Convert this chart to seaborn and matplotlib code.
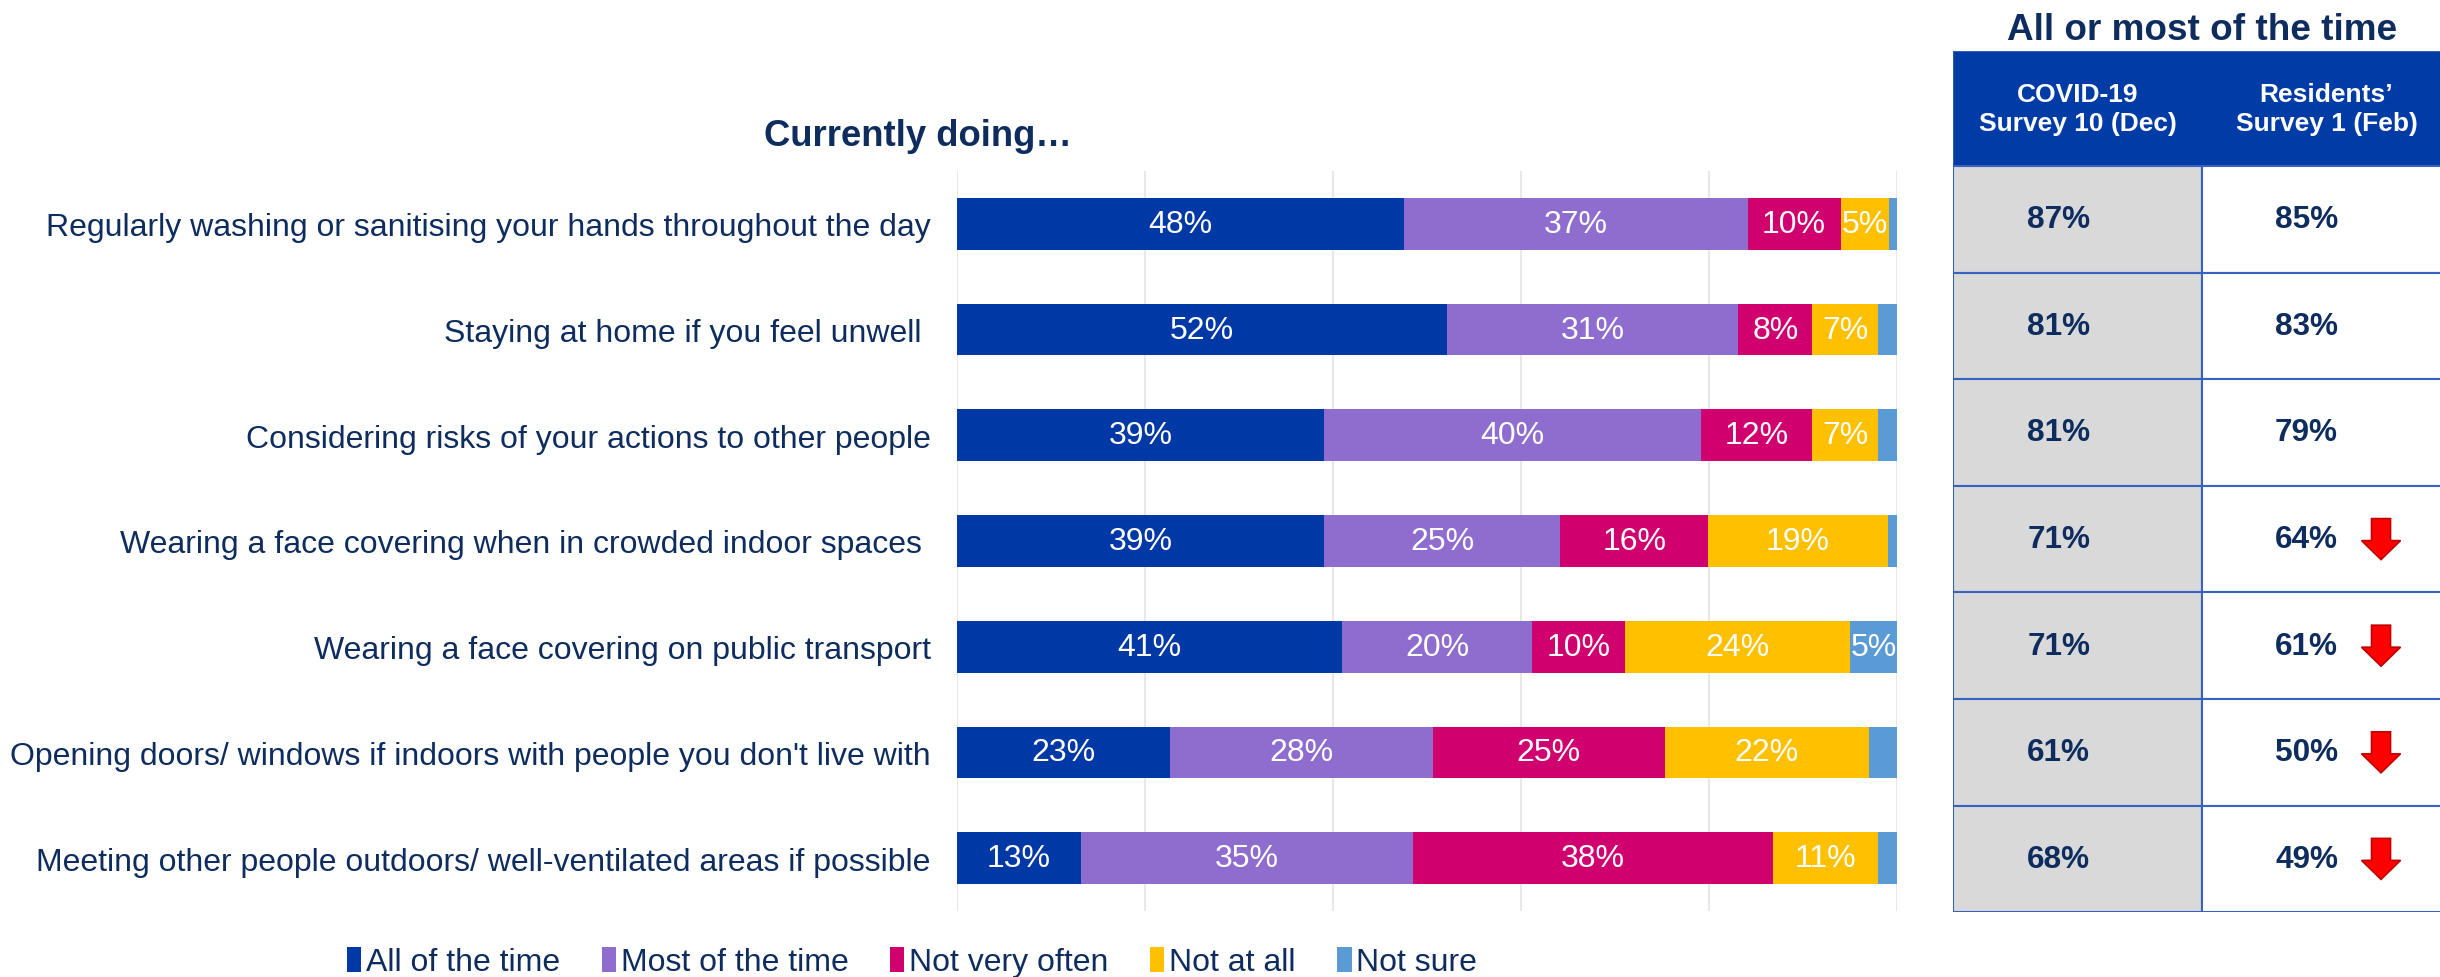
import numpy as np
import pandas as pd
import matplotlib
matplotlib.use("Agg")
import matplotlib.pyplot as plt
from matplotlib.patches import Polygon, Rectangle, Patch
import seaborn as sns

# ---- data -------------------------------------------------------------
behaviours = [
    "Regularly washing or sanitising your hands throughout the day",
    "Staying at home if you feel unwell ",
    "Considering risks of your actions to other people",
    "Wearing a face covering when in crowded indoor spaces ",
    "Wearing a face covering on public transport",
    "Opening doors/ windows if indoors with people you don't live with",
    "Meeting other people outdoors/ well-ventilated areas if possible",
]
response_levels = ["All of the time", "Most of the time", "Not very often",
                   "Not at all", "Not sure"]
all_of_the_time = [47.5, 52.1, 39.0, 39.0, 41.0, 22.7, 13.2]
most_of_the_time = [36.6, 31.0, 40.1, 25.2, 20.2, 27.9, 35.3]
not_very_often = [9.9, 7.9, 11.9, 15.7, 9.9, 24.7, 38.3]
not_at_all = [5.1, 7.0, 7.0, 19.1, 23.9, 21.7, 11.2]
not_sure = [0.9, 2.0, 2.0, 1.0, 5.0, 3.0, 2.0]

table_title = "All or most of the time"
column_heads = ["COVID-19\nSurvey 10 (Dec)", "Residents\u2019\nSurvey 1 (Feb)"]
survey10_dec = [87, 81, 81, 71, 71, 61, 68]
residents1_feb = [85, 83, 79, 64, 61, 50, 49]
significant_drop = [False, False, False, True, True, True, True]

# ---- style ------------------------------------------------------------
level_colours = ["#0039A6", "#8E6DCF", "#D1006F", "#FFC000", "#5B9BD5"]
navy = "#0E2D5E"
header_blue = "#003BA6"
border_blue = "#3762C0"
cell_grey = "#D9D9D9"

sns.set_theme(style="white")
plt.rcParams["font.family"] = ["Liberation Sans", "DejaVu Sans"]

W, H = 2440, 978
fig = plt.figure(figsize=(W / 100, H / 100), dpi=100)

# ---- stacked bar chart -------------------------------------------------
ax = fig.add_axes([957 / W, 1 - 912 / H, 940 / W, 740 / H])

df = pd.DataFrame({
    "behaviour": behaviours,
    "All of the time": all_of_the_time,
    "Most of the time": most_of_the_time,
    "Not very often": not_very_often,
    "Not at all": not_at_all,
    "Not sure": not_sure,
})
cumulative = df[response_levels].cumsum(axis=1)

# draw the running totals from the widest down so each layer shows its segment
for level, colour in reversed(list(zip(response_levels, level_colours))):
    sns.barplot(x=cumulative[level], y=df["behaviour"], orient="h",
                color=colour, saturation=1, width=0.49, linewidth=0, ax=ax)

for i in range(len(behaviours)):
    for level in response_levels:
        value = df.loc[i, level]
        if value >= 4:
            centre = cumulative.loc[i, level] - value / 2
            ax.text(centre, i, f"{value:.0f}%", ha="center", va="center",
                    color="white", fontsize=23)

ax.set_xlim(0, 100)
ax.set_xticks(range(0, 101, 20))
ax.set_xticklabels([])
ax.set_axisbelow(True)
ax.xaxis.grid(True, color="#E8E8E8", linewidth=1.5)
ax.yaxis.grid(False)
for spine in ax.spines.values():
    spine.set_visible(False)
ax.tick_params(axis="both", length=0)
ax.tick_params(axis="y", labelsize=23, labelcolor=navy, pad=19)
ax.set_xlabel("")
ax.set_ylabel("")

fig.text(918 / W, 1 - 136 / H, "Currently doing\u2026", ha="center",
         va="center", fontsize=26.3, fontweight="bold", color=navy)

# ---- legend -----------------------------------------------------------
handles = [Patch(facecolor=c, edgecolor="none") for c in level_colours]
leg = fig.legend(handles, response_levels, loc="center",
                 bbox_to_anchor=(912 / W, 1 - 963 / H), ncol=5, frameon=False,
                 fontsize=23, handlelength=0.45, handleheight=0.85,
                 handletextpad=0.15, columnspacing=1.3, borderpad=0)
for t in leg.get_texts():
    t.set_color(navy)

# ---- comparison table -------------------------------------------------
n = len(behaviours)
x0, col_w = 1953, 249
top, header_h, row_h = 52, 115, 106.6
tab_h = header_h + n * row_h
hh = header_h / row_h
tax = fig.add_axes([x0 / W, (H - top - tab_h) / H, 2 * col_w / W, tab_h / H])
tax.set_xlim(0, 2)
tax.set_ylim(n, -hh)
tax.axis("off")

tax.add_patch(Rectangle((0, -hh), 2, hh, facecolor=header_blue,
                        edgecolor=border_blue, linewidth=1.2))
for j, head in enumerate(column_heads):
    tax.text(j + 0.5, -hh / 2, head, ha="center", va="center", color="white",
             fontsize=19, fontweight="bold", linespacing=1.3)

for i in range(n):
    tax.add_patch(Rectangle((0, i), 1, 1, facecolor=cell_grey,
                            edgecolor=border_blue, linewidth=1.5))
    tax.add_patch(Rectangle((1, i), 1, 1, facecolor="white",
                            edgecolor=border_blue, linewidth=1.5))
    tax.text(0.425, i + 0.5, f"{survey10_dec[i]}%", ha="center", va="center",
             color=navy, fontsize=22.7, fontweight="bold")
    tax.text(1.42, i + 0.5, f"{residents1_feb[i]}%", ha="center", va="center",
             color=navy, fontsize=22.7, fontweight="bold")
    if significant_drop[i]:
        cx, cy = 1.719, i + 0.5
        sw, hw = 9.5 / col_w, 19.5 / col_w
        t0, mid, tip = cy - 20.5 / row_h, cy + 1.5 / row_h, cy + 20.5 / row_h
        arrow = Polygon([(cx - sw, t0), (cx + sw, t0), (cx + sw, mid),
                         (cx + hw, mid), (cx, tip), (cx - hw, mid),
                         (cx - sw, mid)], closed=True, facecolor="#FF0000",
                        edgecolor="#C00000", linewidth=1.2)
        tax.add_patch(arrow)

fig.text(2202 / W, 1 - 30 / H, table_title, ha="center", va="center",
         fontsize=26.6, fontweight="bold", color=navy)

fig.savefig("out.png", dpi=100, facecolor="white")
